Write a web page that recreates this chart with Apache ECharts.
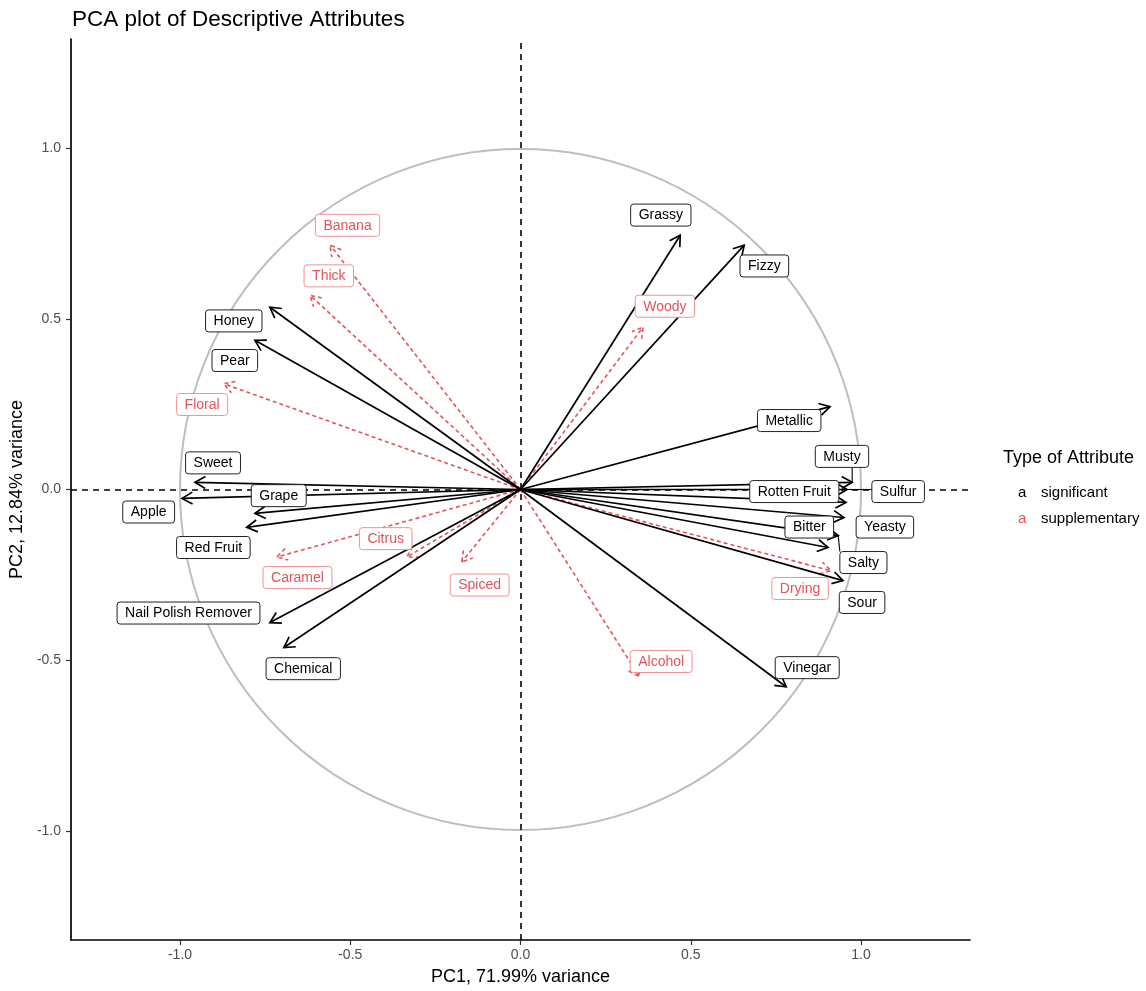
<!DOCTYPE html>
<html><head><meta charset="utf-8">
<script src="https://cdn.jsdelivr.net/npm/echarts@6/dist/echarts.min.js"></script>
<style>html,body{margin:0;padding:0;background:#fff}#c{width:1146px;height:991px}</style>
</head><body><div id="c"></div>
<script>
// ---- data: significant attributes ----
const sigNames = ['Grassy','Fizzy','Metallic','Musty','Sulfur','Rotten Fruit','Yeasty','Salty','Bitter','Sour','Vinegar','Sweet','Apple','Grape','Red Fruit','Nail Polish Remover','Chemical','Honey','Pear'];
const sigPC1 = [0.469, 0.657, 0.909, 0.974, 0.959, 0.956, 0.950, 0.933, 0.903, 0.947, 0.780, -0.956, -0.994, -0.780, -0.804, -0.736, -0.695, -0.736, -0.780];
const sigPC2 = [0.745, 0.716, 0.243, 0.021, 0.000, -0.038, -0.082, -0.135, -0.170, -0.267, -0.578, 0.021, -0.026, -0.070, -0.111, -0.390, -0.463, 0.534, 0.437];
const sigLabelPC1 = [0.412, 0.716, 0.789, 0.944, 1.109, 0.804, 1.070, 1.007, 0.848, 1.003, 0.842, -0.903, -1.092, -0.710, -0.902, -0.975, -0.638, -0.842, -0.839];
const sigLabelPC2 = [0.804, 0.655, 0.202, 0.097, -0.006, -0.006, -0.110, -0.214, -0.110, -0.331, -0.522, 0.078, -0.066, -0.018, -0.170, -0.362, -0.525, 0.494, 0.378];

// ---- data: supplementary attributes ----
const supNames = ['Banana','Thick','Floral','Woody','Citrus','Caramel','Spiced','Drying','Alcohol'];
const supPC1 = [-0.559, -0.618, -0.872, 0.360, -0.334, -0.716, -0.173, 0.912, 0.349];
const supPC2 = [0.716, 0.569, 0.310, 0.476, -0.198, -0.198, -0.213, -0.238, -0.548];
const supLabelPC1 = [-0.508, -0.563, -0.935, 0.424, -0.396, -0.655, -0.120, 0.821, 0.413];
const supLabelPC2 = [0.774, 0.626, 0.249, 0.537, -0.144, -0.258, -0.280, -0.290, -0.504];

const tickValues = [-1, -0.5, 0, 0.5, 1];
const groupNames = ['significant', 'supplementary'];
const titleText = 'PCA plot of Descriptive Attributes';
const legendTitle = 'Type of Attribute';
const xTitle = 'PC1, 71.99% variance';
const yTitle = 'PC2, 12.84% variance';

const FONT = '"Liberation Sans", Arial, Helvetica, sans-serif';
const BLACK = '#000000';
const RED = '#e0555a';
const RED_BORDER = '#ef9396';
const LABEL_FS = 14, PAD_V = 3, PAD_H = 8, LH = 16;

const measCtx = document.createElement('canvas').getContext('2d');
measCtx.font = LABEL_FS + 'px ' + FONT;

function arrowRender(color, dash, width) {
  return function (params, api) {
    const o = api.coord([0, 0]);
    const p = api.coord([api.value(0), api.value(1)]);
    const ang = Math.atan2(p[1] - o[1], p[0] - o[0]);
    const L = 12, a = Math.PI / 6;
    const h1 = [p[0] - L * Math.cos(ang - a), p[1] - L * Math.sin(ang - a)];
    const h2 = [p[0] - L * Math.cos(ang + a), p[1] - L * Math.sin(ang + a)];
    const st = { stroke: color, lineWidth: width, fill: null, lineDash: dash };
    return { type: 'group', children: [
      { type: 'line', shape: { x1: o[0], y1: o[1], x2: p[0], y2: p[1] }, style: Object.assign({}, st) },
      { type: 'polyline', shape: { points: [h1, p, h2] }, style: Object.assign({}, st) }
    ]};
  };
}

function labelRender(names, textColor, borderColor) {
  return function (params, api) {
    const c = api.coord([api.value(0), api.value(1)]);
    const p = api.coord([api.value(2), api.value(3)]);
    const name = names[params.dataIndex];
    const w = measCtx.measureText(name).width + 2 * PAD_H;
    const h = LH + 2 * PAD_V;
    const x0 = c[0] - w / 2, x1 = c[0] + w / 2, y0 = c[1] - h / 2, y1 = c[1] + h / 2;
    const nx = Math.min(Math.max(p[0], x0), x1), ny = Math.min(Math.max(p[1], y0), y1);
    const children = [];
    if (Math.hypot(p[0] - nx, p[1] - ny) > 14) {
      children.push({ type: 'line', shape: { x1: nx, y1: ny, x2: p[0], y2: p[1] }, style: { stroke: textColor, lineWidth: 1.1 } });
    }
    children.push({ type: 'rect', shape: { x: x0, y: y0, width: w, height: h, r: 3 },
      style: { fill: '#ffffff', stroke: borderColor, lineWidth: 1 } });
    children.push({ type: 'text', style: { text: name, x: c[0], y: c[1] + 0.5, align: 'center', verticalAlign: 'middle',
      fill: textColor, fontSize: LABEL_FS, fontFamily: FONT } });
    return { type: 'group', children };
  };
}

const sigArrowData = sigPC1.map((v, i) => [v, sigPC2[i]]);
const supArrowData = supPC1.map((v, i) => [v, supPC2[i]]);
const sigLabelData = sigLabelPC1.map((v, i) => [v, sigLabelPC2[i], sigPC1[i], sigPC2[i]]);
const supLabelData = supLabelPC1.map((v, i) => [v, supLabelPC2[i], supPC1[i], supPC2[i]]);

const axisCommon = {
  type: 'value',
  splitLine: { show: false },
  axisLine: { show: true, onZero: false, lineStyle: { color: BLACK, width: 1.7 } },
  axisTick: { show: true, inside: false, length: 5, customValues: tickValues, lineStyle: { color: '#333', width: 1.2 } },
  axisLabel: { customValues: tickValues, formatter: v => v.toFixed(1), color: '#4d4d4d', fontSize: 14, fontFamily: FONT },
  nameLocation: 'middle',
  nameTextStyle: { fontSize: 18, color: BLACK, fontFamily: FONT }
};

const chart = echarts.init(document.getElementById('c'), null, { renderer: 'canvas' });
chart.setOption({
  backgroundColor: '#ffffff',
  animation: false,
  textStyle: { fontFamily: FONT },
  title: [
    { text: titleText, left: 67, top: 3, textStyle: { fontSize: 22.5, fontWeight: 'normal', color: BLACK, fontFamily: FONT } },
    { text: legendTitle, left: 998, top: 444, textStyle: { fontSize: 18, fontWeight: 'normal', color: BLACK, fontFamily: FONT } }
  ],
  legend: {
    data: groupNames,
    orient: 'vertical',
    left: 1008, top: 480,
    icon: 'none',
    itemWidth: 0, itemHeight: 14, itemGap: 11,
    selectedMode: false,
    formatter: name => '{' + (name === 'significant' ? 's' : 'u') + '|a}' + name,
    textStyle: { fontSize: 15, color: BLACK, fontFamily: FONT,
      rich: { s: { color: BLACK, fontSize: 15, width: 23, fontFamily: FONT }, u: { color: RED, fontSize: 15, width: 23, fontFamily: FONT } } }
  },
  grid: { left: 69, right: 176, top: 39, bottom: 51 },
  xAxis: Object.assign({}, axisCommon, { min: -1.32, max: 1.32, name: xTitle, nameGap: 28,
    axisLabel: Object.assign({}, axisCommon.axisLabel, { margin: 8 }) }),
  yAxis: Object.assign({}, axisCommon, { min: -1.32, max: 1.32, name: yTitle, nameGap: 40,
    axisLabel: Object.assign({}, axisCommon.axisLabel, { margin: 10 }) }),
  series: [
    { type: 'custom', name: 'circle', z: 1, data: [[0, 0]], encode: { x: 0, y: 1 },
      renderItem: (params, api) => {
        const c = api.coord([0, 0]);
        const r = api.size([1, 1])[0];
        return { type: 'circle', shape: { cx: c[0], cy: c[1], r }, style: { fill: 'none', stroke: '#bebebe', lineWidth: 2 } };
      },
      markLine: { silent: true, symbol: 'none', label: { show: false }, animation: false,
        lineStyle: { color: BLACK, type: [6, 5], width: 1.6 }, data: [{ xAxis: 0 }, { yAxis: 0 }] } },
    { type: 'custom', name: 'supplementary', z: 3, data: supArrowData, encode: { x: 0, y: 1 }, itemStyle: { color: RED },
      renderItem: arrowRender(RED, [4, 3], 1.6) },
    { type: 'custom', name: 'significant', z: 3, data: sigArrowData, encode: { x: 0, y: 1 }, itemStyle: { color: BLACK },
      renderItem: arrowRender(BLACK, null, 1.7) },
    { type: 'custom', name: 'significant', z: 5, data: sigLabelData, encode: { x: 0, y: 1 }, itemStyle: { color: BLACK },
      renderItem: labelRender(sigNames, BLACK, '#222') },
    { type: 'custom', name: 'supplementary', z: 5, data: supLabelData, encode: { x: 0, y: 1 }, itemStyle: { color: RED },
      renderItem: labelRender(supNames, RED, RED_BORDER) }
  ]
});
</script></body></html>
